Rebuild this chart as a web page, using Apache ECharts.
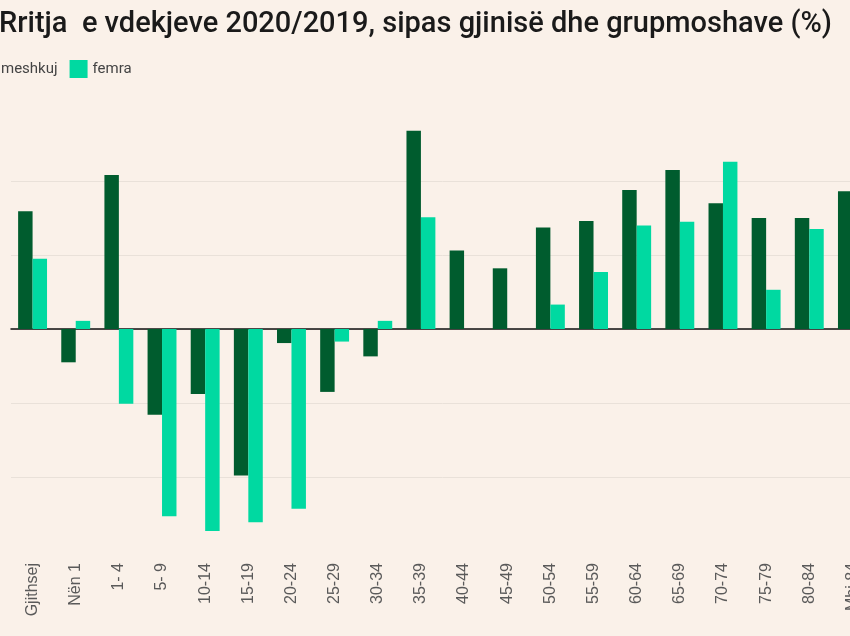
<!DOCTYPE html>
<html>
<head>
<meta charset="utf-8">
<script src="https://cdn.jsdelivr.net/npm/echarts@6/dist/echarts.min.js"></script>
<style>
html,body{margin:0;padding:0;background:#FAF1E9;overflow:hidden;width:850px;height:636px;}
#chart{width:880px;height:636px;}
</style>
</head>
<body>
<div id="chart"></div>
<script>
const categories = ['Gjithsej','Nën 1','1- 4','5- 9','10-14','15-19','20-24','25-29','30-34','35-39','40-44','45-49','50-54','55-59','60-64','65-69','70-74','75-79','80-84','Mbi 84'];
const meshkuj = [15.9,-4.5,20.8,-11.6,-8.8,-19.8,-1.9,-8.5,-3.7,26.8,10.6,8.2,13.7,14.6,18.8,21.5,17.0,15.0,15.0,18.6];
const femra = [9.5,1.1,-10.1,-25.3,-27.3,-26.1,-24.3,-1.7,1.1,15.1,0,0,3.3,7.7,14.0,14.5,22.6,5.3,13.5,14.0];
const yTicks = [-30,-20,-10,0,10,20,30];

const chart = echarts.init(document.getElementById('chart'));
const gridColor = '#E9E1D9';
chart.setOption({
  backgroundColor: '#FAF1E9',
  animation: false,
  title: {
    text: 'Rritja  e vdekjeve 2020/2019, sipas gjinisë dhe grupmoshave (%)',
    left: -6, top: 5,
    textStyle: {fontFamily: 'Roboto', fontWeight: 500, fontSize: 29, color: '#1a1a1a'}
  },
  legend: {
    left: -27, top: 55,
    itemWidth: 18, itemHeight: 18, itemGap: 12,
    icon: 'rect',
    textStyle: {fontFamily: 'Roboto', fontSize: 15, color: '#444'},
    data: ['meshkuj','femra']
  },
  grid: {left: 11, right: 6, top: 107, height: 444, containLabel: false},
  xAxis: {
    type: 'category',
    data: categories,
    axisLine: {onZero: true, lineStyle: {color: '#111', width: 1.5}},
    axisTick: {show: false},
    axisLabel: {
      rotate: 90, interval: 0, margin: 12,
      fontFamily: 'Liberation Sans', fontSize: 16, color: '#5a5a5a'
    }
  },
  yAxis: {
    type: 'value',
    min: yTicks[0], max: yTicks[yTicks.length-1], interval: 10,
    axisLabel: {show: false},
    axisLine: {show: false},
    axisTick: {show: false},
    splitLine: {lineStyle: {color: yTicks.map((v,i)=> (i===0||i===yTicks.length-1) ? 'rgba(0,0,0,0)' : gridColor), width: 1}}
  },
  series: [
    {name: 'meshkuj', type: 'bar', data: meshkuj, itemStyle: {color: '#005C2E'}, barGap: '0%', barCategoryGap: '33%'},
    {name: 'femra', type: 'bar', data: femra, itemStyle: {color: '#00D9A1'}, barGap: '0%', barCategoryGap: '33%'}
  ]
});
</script>
</body>
</html>
